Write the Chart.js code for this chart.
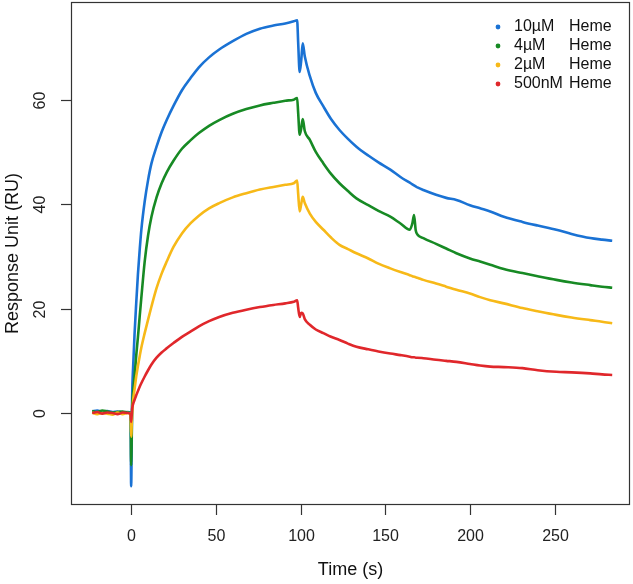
<!DOCTYPE html>
<html>
<head>
<meta charset="utf-8">
<script src="https://cdn.jsdelivr.net/npm/chart.js@4.4.0/dist/chart.umd.min.js"></script>
<style>
  body { margin: 0; background: #fff; }
  #wrap { width: 633px; height: 584px; }
</style>
</head>
<body>
<div id="wrap"><canvas id="spr"></canvas></div>
<script>
// time points (s), shared by all four sensorgrams
const timeS = [
  -23, -20, -17, -14, -11, -8, -5, -2, -0.3,
  0, 0.6, 1.2, 2, 3, 4, 5, 6, 8, 10,
  12, 15, 18, 21, 25, 30, 35, 40, 46, 52,
  60, 68, 76, 84, 91, 96, 98,
  98.6, 99.5, 100.4, 101.3, 102.5, 105.5, 109, 113.5,
  118, 123, 128, 133, 140, 146, 153, 159,
  164.5, 166, 167, 168, 169, 172.5,
  180, 186, 192, 200, 206, 212, 220, 231,
  240, 251, 260, 271, 278, 284
];

// response (RU)
const ru10uM = [
  0.3, 0.5, 0.2, 0.4, 0.2, 0.3, 0.1, 0.2, 0.0,
  -14, 3, 9, 15, 21, 26.5, 31, 35, 40.5, 44.6,
  47.8, 51, 53.8, 56.1, 58.8, 61.8, 64.1, 66.2, 68.1, 69.6,
  71.2, 72.6, 73.6, 74.2, 74.6, 75, 75.2,
  71, 65.3, 67.5, 70.8, 68.3, 64.5, 61.3, 58.7,
  56.3, 54.2, 52.5, 51, 49.3, 48, 46.6, 45.2,
  44.1, 43.8, 43.6, 43.4, 43.2, 42.7,
  41.8, 41.2, 40.8, 39.8, 39.2, 38.6, 37.6, 36.6,
  35.9, 35.1, 34.3, 33.5, 33.2, 33
];
const ru4uM = [
  0.4, 0.2, 0.5, 0.3, 0.1, 0.2, 0.3, 0.1, 0.0,
  -10, 1, 4, 7, 11, 14.5, 18.3, 22, 29, 34,
  37.6, 41.3, 44, 46.1, 48.3, 50.6, 52.2, 53.6, 55, 56.1,
  57.3, 58.2, 58.9, 59.4, 59.8, 60, 60.3,
  57.5, 53.3, 54.5, 56.3, 54, 52.3, 50, 47.8,
  45.8, 44, 42.5, 41.1, 39.8, 38.7, 37.6, 36.3,
  35.1, 36.3, 37.9, 35, 34.2, 33.5,
  32.4, 31.5, 30.6, 29.6, 29, 28.4, 27.6, 26.8,
  26.2, 25.5, 25, 24.5, 24.2, 24
];
const ru2uM = [
  0.1, -0.2, 0.0, -0.1, -0.3, 0.1, -0.2, 0.0, -0.1,
  -4.5, 0, 2.5, 4.5, 7, 9, 10.8, 12.5, 15.3, 17.9,
  20.4, 23.9, 26.7, 29, 31.8, 34.4, 36.3, 37.8, 39.2, 40.2,
  41.3, 42.1, 42.8, 43.3, 43.7, 44, 44.5,
  42, 38.6, 40, 41.4, 40.2, 38.2, 36.6, 35.1,
  33.6, 32.2, 31.4, 30.6, 29.6, 28.6, 27.7, 27,
  26.4, 26.2, 26.1, 26, 25.9, 25.5,
  24.8, 24.2, 23.6, 22.9, 22.2, 21.6, 21, 20.1,
  19.5, 18.8, 18.3, 17.8, 17.5, 17.2
];
const ru500nM = [
  0.0, 0.2, -0.1, 0.1, 0.0, -0.2, 0.1, 0.0, -0.2,
  -1.7, 0.8, 1.8, 2.5, 3.4, 4.2, 5, 5.7, 7, 8.2,
  9.3, 10.6, 11.6, 12.4, 13.4, 14.6, 15.6, 16.6, 17.6, 18.4,
  19.2, 19.8, 20.3, 20.7, 21, 21.3, 21.6,
  20.2, 18.4, 19.2, 19.1, 18, 16.9, 16, 15.3,
  14.6, 14, 13.3, 12.7, 12.2, 11.8, 11.4, 11.1,
  10.8, 10.7, 10.7, 10.6, 10.6, 10.5,
  10.2, 10, 9.8, 9.4, 9.1, 8.9, 8.8, 8.6,
  8.2, 7.9, 7.8, 7.6, 7.4, 7.3
];

const concLabels = ['10\u00b5M', '4\u00b5M', '2\u00b5M', '500nM'];
const seriesColors = ['#1a72d4', '#178a24', '#f7b918', '#e0272b'];
const xTicks = [0, 50, 100, 150, 200, 250];
const yTicks = [0, 20, 40, 60];

const FONT = '"Liberation Sans", Arial, Helvetica, sans-serif';

const toPoints = vals => vals.map((v, i) => ({ x: timeS[i], y: v }));
const allSeries = [ru10uM, ru4uM, ru2uM, ru500nM];

// R-style box, ticks, labels and titles
const rAxes = {
    id: 'rAxes',
    afterDraw(chart) {
        const { ctx, chartArea: a, scales: { x, y } } = chart;
        ctx.save();
        ctx.strokeStyle = '#333';
        ctx.lineWidth = 1.2;
        ctx.strokeRect(a.left + 0.5, a.top + 0.5, a.right - a.left - 1, a.bottom - a.top - 1);

        ctx.fillStyle = '#222';
        ctx.font = '16px ' + FONT;
        ctx.textAlign = 'center';
        ctx.textBaseline = 'middle';

        xTicks.forEach(v => {
            const px = Math.round(x.getPixelForValue(v)) + 0.5;
            ctx.beginPath();
            ctx.moveTo(px, a.bottom);
            ctx.lineTo(px, a.bottom + 10);
            ctx.stroke();
            ctx.fillText(String(v), px, a.bottom + 32);
        });

        yTicks.forEach(v => {
            const py = Math.round(y.getPixelForValue(v)) + 0.5;
            ctx.beginPath();
            ctx.moveTo(a.left - 10, py);
            ctx.lineTo(a.left, py);
            ctx.stroke();
            ctx.save();
            ctx.translate(a.left - 30, py);
            ctx.rotate(-Math.PI / 2);
            ctx.fillText(String(v), 0, 0);
            ctx.restore();
        });

        ctx.font = '18px ' + FONT;
        ctx.fillStyle = '#111';
        ctx.fillText('Time (s)', (a.left + a.right) / 2, 570);
        ctx.save();
        ctx.translate(13, (a.top + a.bottom) / 2);
        ctx.rotate(-Math.PI / 2);
        ctx.fillText('Response Unit (RU)', 0, 0);
        ctx.restore();
        ctx.restore();
    }
};

// legend in the top right corner, no frame
const rLegend = {
    id: 'rLegend',
    afterDraw(chart) {
        const { ctx } = chart;
        ctx.save();
        ctx.font = '16px ' + FONT;
        ctx.textBaseline = 'middle';
        ctx.textAlign = 'left';
        chart.data.datasets.forEach((ds, i) => {
            const yy = 27 + i * 19;
            ctx.fillStyle = ds.borderColor;
            ctx.beginPath();
            ctx.arc(498, yy, 2.4, 0, Math.PI * 2);
            ctx.fill();
            ctx.fillStyle = '#111';
            ctx.fillText(concLabels[i], 514, yy);
            ctx.fillText('Heme', 569, yy);
        });
        ctx.restore();
    }
};

new Chart(document.getElementById('spr'), {
    type: 'line',
    data: {
        datasets: allSeries.map((vals, i) => ({
            label: concLabels[i] + ' Heme',
            data: toPoints(vals),
            borderColor: seriesColors[i],
            borderWidth: 2.6,
            pointRadius: 0,
            cubicInterpolationMode: 'monotone',
            order: 4 - i
        }))
    },
    options: {
        responsive: true,
        maintainAspectRatio: false,
        animation: false,
        layout: { padding: { left: 71, right: 3, top: 2, bottom: 79 } },
        scales: {
            x: { type: 'linear', display: false, min: -35.5, max: 294.5 },
            y: { type: 'linear', display: false, min: -17.6, max: 78.7 }
        },
        plugins: {
            legend: { display: false },
            tooltip: { enabled: false }
        }
    },
    plugins: [rAxes, rLegend]
});
</script>
</body>
</html>
